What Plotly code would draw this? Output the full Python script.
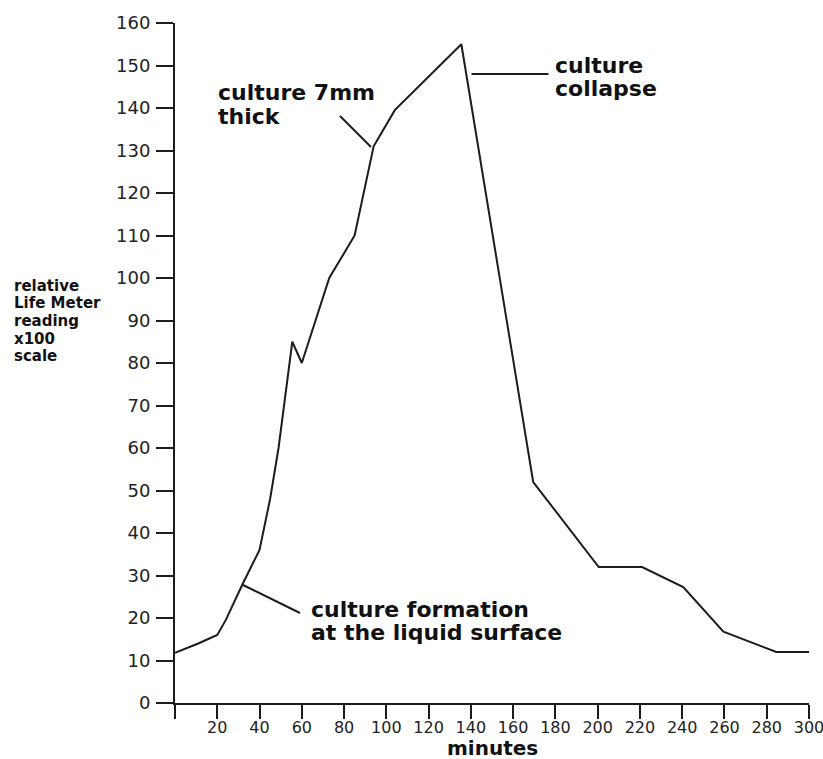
import plotly.graph_objects as go

# ---- data ----
minutes = [0, 11, 20, 24, 32, 40, 45, 49, 55.5, 60, 73, 85, 94, 104, 135.5,
           169.5, 200.5, 221, 240.5, 259.5, 284.5, 300]
reading = [11.8, 14, 16, 19.5, 28, 36, 48, 60, 85, 80, 100, 110, 131, 139.5, 155,
           52, 32, 32, 27.3, 16.8, 12, 12]

x_tick_vals = list(range(0, 301, 20))
x_tick_text = [""] + [str(v) for v in range(20, 301, 20)]
y_tick_vals = list(range(0, 161, 10))
y_tick_text = [str(v) for v in y_tick_vals]

y_label_lines = ["relative", "Life Meter", "reading", "x100", "scale"]

# ---- layout geometry (pixels) ----
W, H = 823, 759
L, R, T, B = 175, 14, 23, 56
PW, PH = W - L - R, H - T - B
FONT = "DejaVu Sans"
INK = "#1c1c1c"


def px_x(px):
    """pixel x -> paper fraction"""
    return (px - L) / PW


def px_y(py):
    """pixel y -> paper fraction"""
    return (H - B - py) / PH


fig = go.Figure()
fig.add_trace(go.Scatter(
    x=minutes, y=reading, mode="lines",
    line=dict(color=INK, width=2),
    hoverinfo="skip", showlegend=False, cliponaxis=False,
))

annotations = []


def text_line(txt, left_px, baseline_px, size, weight=700):
    annotations.append(dict(
        text=txt, xref="paper", yref="paper",
        x=px_x(left_px), y=px_y(baseline_px - 0.35 * size),
        xanchor="left", yanchor="middle", showarrow=False, borderpad=0,
        font=dict(family=FONT, size=size, color="#111", weight=weight),
    ))


# callouts
text_line("culture 7mm", 217, 100, 22)
text_line("thick", 217, 124, 22)
text_line("culture", 554, 73, 22)
text_line("collapse", 554, 96, 22)
text_line("culture formation", 310, 617, 22)
text_line("at the liquid surface", 310, 640, 22)

# y axis label block
for i, ln in enumerate(y_label_lines):
    text_line(ln, 12.5, 291 + 17.6 * i, 15)

# x axis title
annotations.append(dict(
    text="minutes", xref="paper", yref="paper", x=0.5, y=px_y(748.3),
    xanchor="center", yanchor="middle", showarrow=False, borderpad=0,
    font=dict(family=FONT, size=20, color="#111", weight=700),
))

# leader lines
shapes = []
for (x0, y0, x1, y1) in [(340, 116, 371, 147), (471.5, 74, 548.5, 74), (243, 585, 300, 613)]:
    shapes.append(dict(
        type="line", xref="paper", yref="paper",
        x0=px_x(x0), y0=px_y(y0), x1=px_x(x1), y1=px_y(y1),
        line=dict(color=INK, width=2),
    ))

fig.update_layout(
    width=W, height=H, autosize=False,
    margin=dict(l=L, r=R, t=T, b=B, pad=0, autoexpand=False),
    paper_bgcolor="white", plot_bgcolor="white",
    annotations=annotations, shapes=shapes,
    showlegend=False,
)
fig.update_xaxes(
    range=[0, 300], tickvals=x_tick_vals, ticktext=x_tick_text,
    showgrid=False, zeroline=False, showline=True, linecolor=INK, linewidth=2,
    ticks="outside", ticklen=14, tickwidth=2, tickcolor=INK,
    tickfont=dict(family=FONT, size=16, color="#222"), ticklabelstandoff=-5,
    ticklabeloverflow="allow", automargin=False,
)
fig.update_yaxes(
    range=[0, 160], tickvals=y_tick_vals, ticktext=y_tick_text,
    showgrid=False, zeroline=False, showline=True, linecolor=INK, linewidth=2,
    ticks="outside", ticklen=17, tickwidth=2, tickcolor=INK,
    tickfont=dict(family=FONT, size=18, color="#222"), ticklabelstandoff=2,
    ticklabeloverflow="allow", automargin=False,
)

fig.write_html(
    "out.html",
    config={"displayModeBar": False, "staticPlot": True},
    post_script="document.body.style.margin='0';",
)
